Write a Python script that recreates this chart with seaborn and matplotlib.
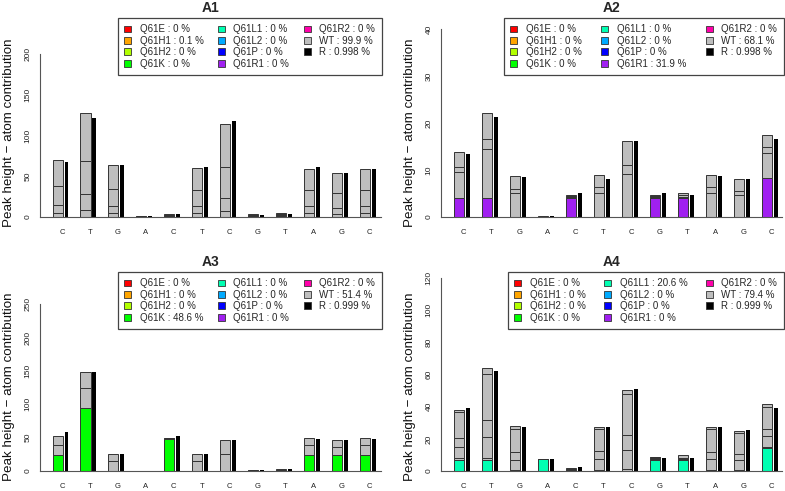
import numpy as np
import seaborn as sns
import matplotlib
matplotlib.use('Agg')
import matplotlib.pyplot as plt
from matplotlib.patches import Patch

bases = ['C', 'T', 'G', 'A', 'C', 'T', 'C', 'G', 'T', 'A', 'G', 'C']
mutants = ['Q61E', 'Q61H1', 'Q61H2', 'Q61K', 'Q61L1', 'Q61L2', 'Q61P',
           'Q61R1', 'Q61R2', 'WT', 'R']
colors = ['#FF0000', '#FFA500', '#B2FF00', '#00FF00', '#00FFB2', '#00AAFF',
          '#0000FF', '#A020F0', '#FF00AA', '#BEBEBE', '#000000']

# A1 - mostly WT
a1_pct = ['0', '0.1', '0', '0', '0', '0', '0', '0', '0', '99.9', '0.998']
a1_mut = [0, 0, 0, 0, 0, 0, 0, 0, 0, 0, 0, 0]
a1_tops = [[4.5, 14.6, 37.8, 70.3], [8.1, 27.6, 68.7, 127.6], [4.5, 13.4, 34.1, 63.8],
           [0.3, 0.7, 1.2], [0.8, 1.6, 2.4, 3.7], [4.5, 13.4, 32.5, 60.6],
           [6.9, 23.6, 61.8, 113.8], [0.8, 1.6, 2.4, 3.7], [1.0, 2.2, 3.5, 4.9],
           [4.5, 13.0, 32.9, 59.3], [3.7, 11.4, 29.7, 54.5], [4.5, 13.0, 32.5, 58.9]]
a1_r = [67.9, 121.5, 63.4, 0.8, 3.2, 61.0, 117.9, 2.8, 3.2, 61.8, 54.1, 59.3]

# A2 - Q61R1
a2_pct = ['0', '0', '0', '0', '0', '0', '0', '31.9', '0', '68.1', '0.998']
a2_mut = [4.0, 4.0, 0, 0, 4.0, 0, 0, 4.0, 4.0, 0, 0, 8.3]
a2_tops = [[9.6, 10.7, 13.8], [14.4, 16.6, 22.1], [5.0, 6.0, 8.7],
           [0.05, 0.1, 0.15], [4.3, 4.5, 4.7], [5.2, 6.4, 9.0],
           [9.1, 11.1, 16.1], [4.3, 4.5, 4.7], [4.3, 4.6, 5.0],
           [5.1, 6.3, 8.9], [4.6, 5.5, 8.0], [13.6, 14.8, 17.4]]
a2_r = [13.3, 21.3, 8.4, 0.3, 5.1, 8.0, 16.1, 5.1, 4.7, 8.7, 8.0, 16.6]

# A3 - Q61K
a3_pct = ['0', '0', '0', '48.6', '0', '0', '0', '0', '0', '51.4', '0.999']
a3_mut = [23.3, 95, 0, 0, 48, 0, 0, 0, 0, 23.3, 23.3, 23.3]
a3_tops = [[39.1, 52.0], [124.3, 148.0], [14.4, 26.2], [0.2, 0.5],
           [49.0, 50.0], [14.9, 25.2], [25.7, 47.0], [1.0, 2.0],
           [1.5, 3.0], [38.6, 49.5], [36.6, 47.0], [38.6, 49.5]]
a3_r = [57.9, 148.5, 25.2, 0.5, 53.0, 25.7, 47.0, 1.5, 2.5, 48.5, 46.0, 48.0]

# A4 - Q61L1
a4_pct = ['0', '0', '0', '0', '20.6', '0', '0', '0', '0', '79.4', '0.999']
a4_mut = [7.1, 7.1, 0, 7.3, 0, 0, 0, 7.1, 7.1, 0, 0, 14.3]
a4_tops = [[7.9, 15.1, 20.7, 36.5, 38.2], [8.3, 21.4, 32.0, 60.6, 63.9],
           [0.6, 6.6, 12.0, 26.1, 27.8], [7.5, 7.7], [0.4, 0.8, 1.2, 1.7],
           [0.6, 7.3, 12.2, 25.9, 27.2], [1.0, 13.1, 22.2, 47.9, 50.6],
           [7.5, 8.0, 8.5, 8.9], [7.5, 8.0, 8.3, 9.8],
           [0.6, 7.3, 12.0, 25.9, 27.2], [0.6, 6.6, 10.8, 23.4, 24.9],
           [14.8, 21.6, 26.3, 40.0, 41.5]]
a4_r = [39.0, 62.2, 27.6, 7.7, 2.5, 27.2, 51.0, 8.1, 8.1, 27.2, 25.7, 39.4]

sns.set_style('white')
plt.rcParams['font.family'] = ['Liberation Sans', 'DejaVu Sans']

W, H = 785, 491
fig = plt.figure(figsize=(W / 100, H / 100), dpi=100)

panels = [
    ('A1', a1_pct, a1_mut, colors[7], a1_tops, a1_r, 244, 200, 50, (39.7, 18, 380.5, 217), 0.229),
    ('A2', a2_pct, a2_mut, colors[7], a2_tops, a2_r, 42.3, 40, 10, (440.9, 18, 782.5, 217), 0.185),
    ('A3', a3_pct, a3_mut, colors[3], a3_tops, a3_r, 298, 250, 50, (39.7, 272, 380.5, 471), 0.229),
    ('A4', a4_pct, a4_mut, colors[4], a4_tops, a4_r, 123.8, 120, 20, (440.9, 272, 782.5, 471), 0.196),
]

edge = '#333333'
grey = '#BEBEBE'
axcol = '#555555'
x = np.arange(1, 13)

for title, pct, mut, mcol, tops, r, ymax, ytop, ystep, (l, t, rr, b), lx in panels:
    ax = fig.add_axes([l / W, (H - b) / H, (rr - l) / W, (b - t) / H])
    for i in range(12):
        bottom = 0
        if mut[i] > 0:
            ax.bar(x[i] - 0.16, mut[i], width=0.36, color=mcol, edgecolor=edge, linewidth=0.7)
            bottom = mut[i]
        for top in tops[i]:
            ax.bar(x[i] - 0.16, top - bottom, bottom=bottom, width=0.36, color=grey,
                   edgecolor=edge, linewidth=0.7)
            bottom = top
    ax.bar(x + 0.16, r, width=0.14, color='black', linewidth=0)

    ax.set_xlim(0.2, 12.4)
    ax.set_ylim(0, ymax)
    ax.set_xticks(x)
    ax.set_xticklabels(bases)
    ax.set_yticks(np.arange(0, ytop + 1, ystep))
    for lab in ax.get_yticklabels():
        lab.set_rotation(90)
        lab.set_va('center')
    ax.tick_params(axis='both', colors=axcol, length=3, width=0.7, direction='out')
    ax.tick_params(axis='x', labelsize=5.5, pad=6)
    ax.tick_params(axis='y', labelsize=6, pad=3)
    for lab in ax.get_xticklabels() + ax.get_yticklabels():
        lab.set_color('#222222')
    sns.despine(ax=ax, top=True, right=True)
    ax.spines['left'].set_bounds(0, ytop)
    ax.spines['left'].set_color(axcol)
    ax.spines['bottom'].set_color(axcol)
    ax.spines['left'].set_linewidth(0.8)
    ax.spines['bottom'].set_linewidth(0.8)

    ax.set_ylabel('Peak height \u2212 atom contribution', fontsize=9.6, color='#111111')
    ax.yaxis.set_label_coords(-0.073, 0.425)
    ax.set_title(title, fontsize=10, fontweight='bold', pad=4)

    handles = [Patch(facecolor=c, edgecolor=edge, linewidth=0.6) for c in colors]
    labels = [f'{m} : {p} %' for m, p in zip(mutants, pct)]
    leg = ax.legend(handles, labels, ncol=3, loc='upper left',
                    bbox_to_anchor=(lx, 0.0, 1.003 - lx, 1.0), mode='expand',
                    borderaxespad=0, fontsize=7, handlelength=0.7, handleheight=0.7,
                    handletextpad=0.9, labelspacing=0.15, borderpad=0.65,
                    fancybox=False, framealpha=1, edgecolor='#444444')
    leg.get_frame().set_linewidth(0.9)

fig.savefig('out.png', dpi=100)
